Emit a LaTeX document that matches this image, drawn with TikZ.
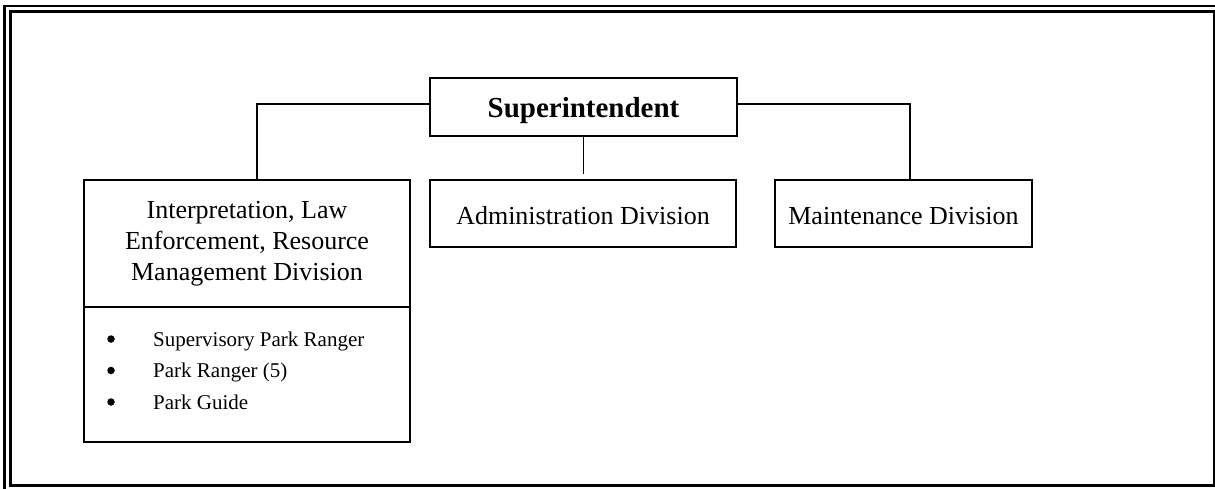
\documentclass[tikz,border=0pt]{standalone}
\usepackage{fontspec}
\setmainfont{Liberation Serif}

\begin{document}
\begin{tikzpicture}[x=1pt,y=-1pt,
    box/.style={draw,line width=1.8pt,inner sep=0pt,align=center,
      font=\fontsize{26}{31}\selectfont},
    staffitem/.style={inner sep=0pt,font=\fontsize{21}{25}\selectfont},
    dotmark/.style={circle,fill,inner sep=0pt,minimum size=7.5pt},
    link/.style={line width=1.9pt},
    frame/.style={line width=2.5pt}]
  \useasboundingbox (0,0) rectangle (1215,489);
  % page border
  \draw[frame] (4.5,489) -- (4.5,6) -- (1215,6);
  \draw[frame] (10.5,11.3) rectangle (1214,485.5);
  % boxes
  \node[box,minimum width=307,minimum height=58,text depth=0pt,
    font=\fontsize{29}{34}\selectfont\bfseries] (sup) at (583.5,107) {Superintendent};
  \node[box,minimum width=326,minimum height=127] (lem) at (247,243.5)
    {Interpretation, Law\\Enforcement, Resource\\Management Division};
  \node[box,minimum width=326,minimum height=135] (staff) at (247,374.5) {};
  \node[box,minimum width=306,minimum height=67,text height=22pt] (adm) at (583,213.5)
    {Administration Division};
  \node[box,minimum width=257,minimum height=67,text height=22pt] (mnt) at (903.5,213.5)
    {Maintenance Division};
  \foreach \i/\who in {1/Supervisory Park Ranger,2/Park Ranger (5),3/Park Guide}{
    \node[dotmark] (dot\i) at (111,307.5+31.5*\i) {};
    \node[staffitem,anchor=base west] (role\i) at (153,314.5+31.5*\i) {\who};
  }
  % connectors
  \coordinate (jl) at (257,104);
  \coordinate (jr) at (910,104);
  \coordinate (jc) at (583.5,174);
  \draw[link] (sup.west |- jl) -- (jl) -- (jl |- lem.north);
  \draw[link] (sup.east |- jr) -- (jr) -- (jr |- mnt.north);
  \draw[link] (sup.south) -- (jc);
\end{tikzpicture}
\end{document}
